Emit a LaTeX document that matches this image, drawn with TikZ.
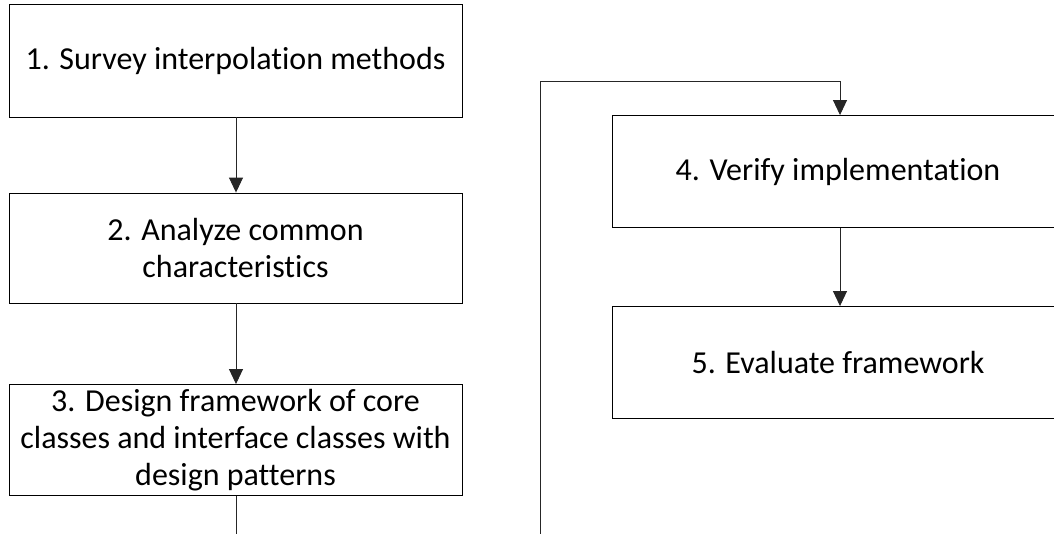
\documentclass[tikz,border=0pt]{standalone}
\usepackage{fontspec}
\setmainfont[Ligatures=NoCommon]{Carlito}
\usetikzlibrary{arrows.meta}
\begin{document}
\begin{tikzpicture}[x=1pt,y=-1pt,
  stepbox/.style={draw=black,line width=0.9pt,minimum width=453pt,inner sep=0pt,align=center,font=\fontsize{32}{37}\selectfont,text=black},
  conn/.style={draw=black!85,line width=0.9pt},
  arr/.style={conn,-{Triangle[width=14pt,length=15pt]}}]
\useasboundingbox (0,0) rectangle (1054,533);
\clip (0,0) rectangle (1054,533);
\node[stepbox,minimum height=113pt] (s1) at (235.5,60.5) {1. Survey interpolation methods};
\node[stepbox,minimum height=110pt] (s2) at (235.5,248) {2. Analyze common\\characteristics};
\node[stepbox,minimum height=111pt] (s3) at (235.5,440) {3. Design framework of core\\classes and interface classes with\\design patterns};
\node[stepbox,minimum width=452pt,minimum height=112pt] (s4) at (838,171.5) {4. Verify implementation};
\node[stepbox,minimum width=452pt,minimum height=112pt] (s5) at (838,362.5) {5. Evaluate framework};
\coordinate (c3end) at (236,540);
\coordinate (loopstart) at (540,540);
\coordinate (loopcorner) at (540,81);
\draw[arr] (s1.south -| 236,0) -- (s2.north -| 236,0);
\draw[arr] (s2.south -| 236,0) -- (s3.north -| 236,0);
\draw[conn] (s3.south -| 236,0) -- (c3end);
\draw[arr] (loopstart) -- (loopcorner) -| (s4.north -| 840,0);
\draw[arr] (s4.south -| 840,0) -- (s5.north -| 840,0);
\end{tikzpicture}
\end{document}
